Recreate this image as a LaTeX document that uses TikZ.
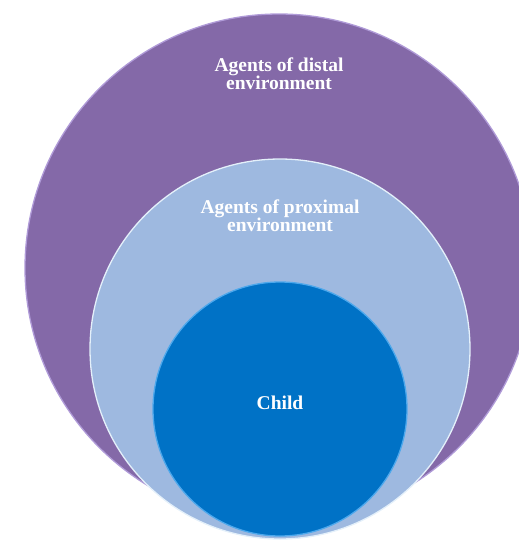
\documentclass[tikz,border=0pt]{standalone}
\usepackage{fontspec}
\setmainfont{Liberation Serif}
\usepackage{tikz}
\usetikzlibrary{shapes.geometric, calc}
\definecolor{distalfill}{HTML}{8469A8}
\definecolor{distalrim}{HTML}{B09BD8}
\definecolor{proxfill}{HTML}{9EB9E0}
\definecolor{proxrim}{HTML}{E4F0FA}
\definecolor{childfill}{HTML}{0072C6}
\definecolor{childrim}{HTML}{4DA8EC}
\tikzstyle{ring} = [circle, inner sep=0pt, line width=1.3pt]
\tikzstyle{caption} = [text=white, font=\fontsize{19.5}{18}\selectfont\bfseries, align=center, inner sep=0pt]

\begin{document}
\begin{tikzpicture}[x=1pt, y=-1pt]
        \useasboundingbox (0,0) rectangle (519,542);
        \clip (0,0) rectangle (519,542);
        % \draw[help lines, step=50] (0,0) grid (519,542);
        \node (distal) [ring, minimum size=508pt, fill=distalfill, draw=distalrim] at (279,268) {};
        \node (prox) [ring, minimum size=380pt, fill=proxfill, draw=proxrim] at (280,349) {};
        \node (child) [ring, minimum size=254pt, fill=childfill, draw=childrim] at (280,409) {};

        \node (distaltxt) [caption] at ([yshift=-60pt]distal.north) {Agents of distal\\ environment};
        \node (proxtxt) [caption] at ([yshift=-57pt]prox.north) {Agents of proximal\\ environment};
        \node (childtxt) [caption] at ([yshift=6pt]child.center) {Child};

    \end{tikzpicture}
\end{document}
